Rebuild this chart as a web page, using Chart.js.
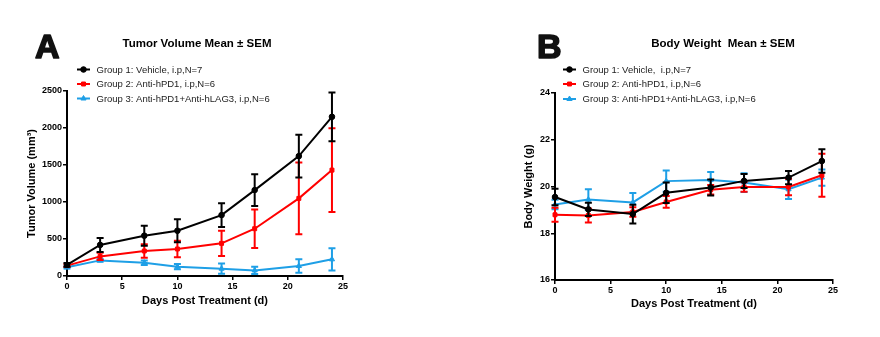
<!DOCTYPE html>
<html><head><meta charset="utf-8">
<script src="https://cdn.jsdelivr.net/npm/chart.js@4"></script>
<style>
body{margin:0;background:#fff;width:880px;height:337px;overflow:hidden}
.wrap{position:absolute;top:0;width:440px;height:337px}
canvas{display:block}
</style></head><body>
<div class="wrap" style="left:0"><canvas id="cA" width="440" height="337"></canvas></div>
<div class="wrap" style="left:440px"><canvas id="cB" width="440" height="337"></canvas></div>
<script>
// ---- data ----
const days = [0, 3, 7, 10, 14, 17, 21, 24];

const namesA = ['Group 1: Vehicle, i.p,N=7', 'Group 2: Anti-hPD1, i.p,N=6', 'Group 3: Anti-hPD1+Anti-hLAG3, i.p,N=6'];
const namesB = ['Group 1: Vehicle,  i.p,N=7', 'Group 2: Anti-hPD1, i.p,N=6', 'Group 3: Anti-hPD1+Anti-hLAG3, i.p,N=6'];

const tumorG1 = [150, 420, 545, 612, 823, 1161, 1620, 2151];
const tumorG1Sem = [25, 95, 135, 155, 160, 215, 290, 330];
const tumorG2 = [140, 265, 338, 365, 441, 639, 1049, 1431];
const tumorG2Sem = [20, 50, 90, 110, 170, 260, 485, 565];
const tumorG3 = [117, 211, 180, 126, 99, 76, 135, 225];
const tumorG3Sem = [15, 20, 30, 35, 70, 50, 90, 150];

const weightG1 = [19.55, 19.02, 18.82, 19.73, 19.96, 20.24, 20.38, 21.09];
const weightG1Sem = [0.35, 0.28, 0.40, 0.44, 0.34, 0.30, 0.28, 0.50];
const weightG2 = [18.79, 18.76, 18.91, 19.34, 19.86, 19.98, 19.98, 20.48];
const weightG2Sem = [0.30, 0.30, 0.20, 0.25, 0.20, 0.20, 0.35, 0.92];
const weightG3 = [19.23, 19.44, 19.32, 20.23, 20.28, 20.17, 19.88, 20.38];
const weightG3Sem = [0.20, 0.44, 0.40, 0.45, 0.34, 0.40, 0.42, 0.35];

const xTicksStep = 5;
const tumorTicks = {min: 0, max: 2500, step: 500};
const weightTicks = {min: 16, max: 24, step: 2};

// ---- styling ----
const FONT = '"Liberation Sans", Arial, sans-serif';
const COLORS = ['#000000', '#FF0000', '#1E9FE6'];
const STYLES = ['circle', 'rect', 'triangle'];
const RADII = [2.8, 2.8, 3];

function makeDatasets(names, vals, sems) {
  return vals.map((v, i) => ({
    label: names[i],
    data: days.map((d, k) => ({x: d, y: v[k]})),
    sem: sems[i],
    borderColor: COLORS[i],
    backgroundColor: COLORS[i],
    pointStyle: STYLES[i],
    pointRadius: RADII[i],
    pointBorderWidth: 1,
    borderWidth: 2,
    tension: 0,
    clip: false
  }));
}

const errorBars = {
  id: 'errorBars',
  beforeDatasetDraw(chart, args) {
    const ds = chart.data.datasets[args.index];
    const xs = chart.scales.x, ys = chart.scales.y, ctx = chart.ctx;
    ctx.save();
    ctx.strokeStyle = ds.borderColor;
    ctx.lineWidth = 2;
    const cap = 3.5;
    ds.data.forEach((p, k) => {
      const s = ds.sem[k];
      const x = xs.getPixelForValue(p.x);
      const yt = ys.getPixelForValue(p.y + s);
      const yb = ys.getPixelForValue(p.y - s);
      ctx.beginPath();
      ctx.moveTo(x, yt); ctx.lineTo(x, yb);
      ctx.moveTo(x - cap, yt); ctx.lineTo(x + cap, yt);
      ctx.moveTo(x - cap, yb); ctx.lineTo(x + cap, yb);
      ctx.stroke();
    });
    ctx.restore();
  }
};

const decor = {
  id: 'decor',
  afterDraw(chart, args, o) {
    const ctx = chart.ctx;
    ctx.save();
    ctx.fillStyle = '#111';
    ctx.strokeStyle = '#111';
    ctx.lineWidth = 1.6;
    ctx.lineJoin = 'round';
    ctx.textBaseline = 'middle';
    ctx.font = 'bold 34px ' + FONT;
    ctx.textAlign = 'left';
    ctx.fillText(o.letter, o.letterX, o.letterY);
    ctx.strokeText(o.letter, o.letterX, o.letterY);
    ctx.font = 'bold 11.5px ' + FONT;
    ctx.textAlign = 'center';
    ctx.fillStyle = '#000';
    ctx.fillText(o.title, o.titleX, o.titleY);
    // legend
    ctx.font = '9.5px ' + FONT;
    ctx.textAlign = 'left';
    chart.data.datasets.forEach((ds, i) => {
      const y = o.legY[i];
      ctx.strokeStyle = ds.borderColor;
      ctx.fillStyle = ds.borderColor;
      ctx.lineWidth = 2;
      ctx.beginPath();
      ctx.moveTo(o.legX - 6.5, y); ctx.lineTo(o.legX + 6.5, y);
      ctx.stroke();
      ctx.lineWidth = 1;
      Chart.helpers.drawPoint(ctx, {pointStyle: ds.pointStyle, radius: ds.pointRadius, borderWidth: 1}, o.legX, y);
      ctx.fillStyle = '#222';
      ctx.fillText(ds.label, o.legTextX, y + 0.5);
    });
    ctx.restore();
  }
};

function makeScales(yt, yTitle, cfg) {
  const tickFont = {family: FONT, size: 9, weight: 'bold'};
  const titleFont = {family: FONT, size: 11, weight: 'bold'};
  const plain = v => String(v);
  return {
    x: {
      type: 'linear', min: 0, max: 25,
      ticks: {stepSize: xTicksStep, color: '#000', font: tickFont, padding: 1, maxRotation: 0, callback: plain},
      grid: {drawOnChartArea: false, drawTicks: true, tickLength: 4, color: '#000', lineWidth: 1.5},
      border: {display: true, color: '#000', width: 2},
      title: {display: true, text: 'Days Post Treatment (d)', color: '#000', font: titleFont, padding: {top: 4, bottom: 4}},
      afterFit(s) { s.height = cfg.xH; }
    },
    y: {
      type: 'linear', min: yt.min, max: yt.max,
      ticks: {stepSize: yt.step, color: '#000', font: tickFont, padding: 1, callback: plain},
      grid: {drawOnChartArea: false, drawTicks: true, tickLength: 4, color: '#000', lineWidth: 1.5},
      border: {display: true, color: '#000', width: 2},
      title: {display: true, text: yTitle, color: '#000', font: titleFont, padding: {top: 4, bottom: 4}},
      afterFit(s) { s.width = cfg.yW; }
    }
  };
}

function makeChart(id, names, vals, sems, yt, yTitle, cfg, deco) {
  return new Chart(document.getElementById(id), {
    type: 'line',
    data: {datasets: makeDatasets(names, vals, sems)},
    options: {
      responsive: false, animation: false, devicePixelRatio: 1,
      layout: {padding: cfg.pad},
      plugins: {legend: {display: false}, tooltip: {enabled: false}, title: {display: false}, decor: deco},
      scales: makeScales(yt, yTitle, cfg)
    },
    plugins: [errorBars, decor]
  });
}

makeChart('cA', namesA, [tumorG1, tumorG2, tumorG3], [tumorG1Sem, tumorG2Sem, tumorG3Sem],
  tumorTicks, 'Tumor Volume (mm³)',
  {xH: 36, yW: 46, pad: {left: 21, right: 97, top: 91, bottom: 25}},
  {letter: 'A', letterX: 35, letterY: 49, title: 'Tumor Volume Mean ± SEM', titleX: 197, titleY: 44,
   legX: 83.5, legTextX: 96.5, legY: [69.5, 84, 98.5]});

makeChart('cB', namesB, [weightG1, weightG2, weightG3], [weightG1Sem, weightG2Sem, weightG3Sem],
  weightTicks, 'Body Weight (g)',
  {xH: 35, yW: 37, pad: {left: 78, right: 47, top: 93, bottom: 22}},
  {letter: 'B', letterX: 97, letterY: 49, title: 'Body Weight  Mean ± SEM', titleX: 283, titleY: 44,
   legX: 129.5, legTextX: 142.5, legY: [69.5, 84, 99]});
</script>
</body></html>
